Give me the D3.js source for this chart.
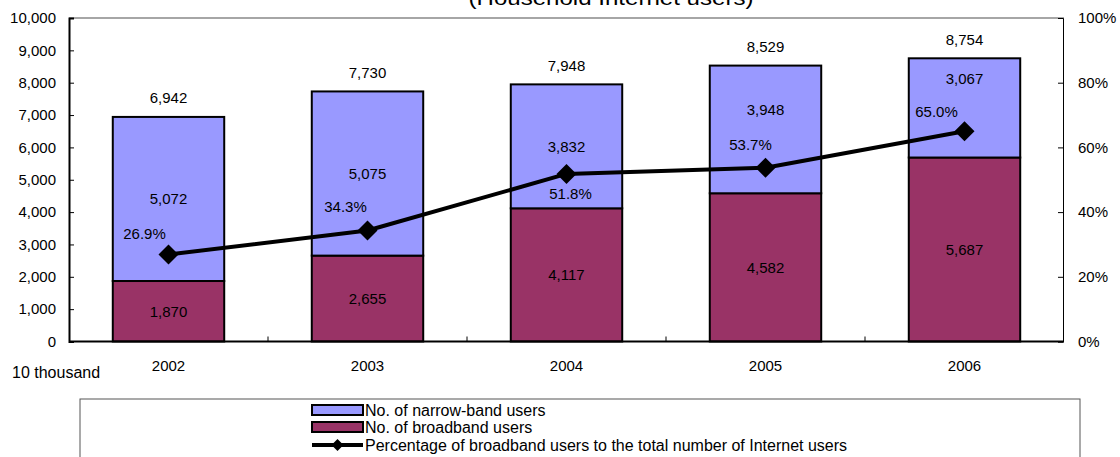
<!DOCTYPE html>
<html>
<head>
<meta charset="utf-8">
<script src="https://cdn.jsdelivr.net/npm/d3@7"></script>
<style>
  html, body { margin: 0; padding: 0; background: #fff; }
  svg { display: block; }
  text { font-family: "Liberation Sans", Arial, sans-serif; fill: #000; }
</style>
</head>
<body>
<svg id="chart" width="1120" height="457"></svg>
<script>
// ---- data ----
const years = ["2002", "2003", "2004", "2005", "2006"];
const narrowband = [5072, 5075, 3832, 3948, 3067];
const broadband = [1870, 2655, 4117, 4582, 5687];
const totals = [6942, 7730, 7948, 8529, 8754];
const percentBroadband = [26.9, 34.3, 51.8, 53.7, 65.0];
const leftTicks = [0, 1000, 2000, 3000, 4000, 5000, 6000, 7000, 8000, 9000, 10000];
const rightTicks = [0, 20, 40, 60, 80, 100];
const seriesNames = ["No. of narrow-band users", "No. of broadband users",
  "Percentage of broadband users to the total number of Internet users"];
const titleText = "(Household Internet users)";
const unitText = "10 thousand";

// ---- label placement (style config) ----
const pctOffsets = [[-24, -21], [-22, -24], [4, 20], [-15, -23], [-28, -19]];
const narrowLabelShift = [0, 0, 0, -20, -29];

// ---- layout ----
const L = 69, R = 1064, T = 18, B = 341.5;
const fs = 15;
const colNarrow = "#9999FF", colBroad = "#993366";

const svg = d3.select("#chart");

const x = d3.scaleBand().domain(years).range([L, R]).paddingInner(0.44).paddingOuter(0.22);
const y = d3.scaleLinear().domain([0, 10000]).range([B, T]);
const y2 = d3.scaleLinear().domain([0, 100]).range([B, T]);

// title (cut off at top, as in the reference)
svg.append("text").attr("x", 611).attr("y", 5).attr("text-anchor", "middle")
  .attr("font-size", 20).attr("textLength", 285).attr("lengthAdjust", "spacingAndGlyphs")
  .text(titleText);

// top border
svg.append("line").attr("x1", L).attr("x2", R).attr("y1", T).attr("y2", T)
  .attr("stroke", "#888").attr("stroke-width", 1.5);

// bars
const g = svg.append("g");
years.forEach((yr, i) => {
  const bx = x(yr), bw = x.bandwidth();
  g.append("rect").attr("x", bx).attr("width", bw)
    .attr("y", y(broadband[i])).attr("height", y(0) - y(broadband[i]))
    .attr("fill", colBroad).attr("stroke", "#000").attr("stroke-width", 2);
  g.append("rect").attr("x", bx).attr("width", bw)
    .attr("y", y(totals[i])).attr("height", y(broadband[i]) - y(totals[i]))
    .attr("fill", colNarrow).attr("stroke", "#000").attr("stroke-width", 2);
});

// axes
const fmt = d3.format(",");
const leftAxis = d3.axisLeft(y).tickValues(leftTicks).tickSize(-5).tickPadding(13).tickFormat(fmt);
const gl = svg.append("g").attr("transform", `translate(${L},0)`).call(leftAxis);
gl.select(".domain").attr("stroke", "#000").attr("stroke-width", 2);
gl.selectAll(".tick line").attr("stroke", "#000");
gl.selectAll("text").attr("font-size", fs).attr("font-family", "Liberation Sans, Arial, sans-serif");

const rightAxis = d3.axisRight(y2).tickValues(rightTicks).tickSize(-5).tickPadding(15).tickFormat(d => d + "%");
const gr = svg.append("g").attr("transform", `translate(${R - 1},0)`).call(rightAxis);
gr.select(".domain").attr("stroke", "#000").attr("stroke-width", 1);
gr.selectAll(".tick line").attr("stroke", "#000");
gr.selectAll("text").attr("font-size", fs).attr("font-family", "Liberation Sans, Arial, sans-serif");

// bottom axis
svg.append("line").attr("x1", L).attr("x2", R).attr("y1", B).attr("y2", B)
  .attr("stroke", "#000").attr("stroke-width", 2);
for (let i = 0; i < years.length - 1; i++) {
  const bx = (x(years[i]) + x.bandwidth() + x(years[i + 1])) / 2;
  svg.append("line").attr("x1", bx).attr("x2", bx).attr("y1", B).attr("y2", B - 5)
    .attr("stroke", "#000").attr("stroke-width", 1);
}
svg.selectAll(".xlab").data(years).enter().append("text")
  .attr("x", d => x(d) + x.bandwidth() / 2).attr("y", 371)
  .attr("text-anchor", "middle").attr("font-size", fs).text(d => d);
svg.append("text").attr("x", 12).attr("y", 378).attr("font-size", 16).text(unitText);

// bar labels
years.forEach((yr, i) => {
  const cx = x(yr) + x.bandwidth() / 2;
  svg.append("text").attr("x", cx).attr("y", y(totals[i]) - 19).attr("dy", "0.35em")
    .attr("text-anchor", "middle").attr("font-size", fs).text(fmt(totals[i]));
  svg.append("text").attr("x", cx)
    .attr("y", (y(totals[i]) + y(broadband[i])) / 2 + narrowLabelShift[i]).attr("dy", "0.35em")
    .attr("text-anchor", "middle").attr("font-size", fs).text(fmt(narrowband[i]));
  svg.append("text").attr("x", cx)
    .attr("y", (y(broadband[i]) + y(0)) / 2).attr("dy", "0.35em")
    .attr("text-anchor", "middle").attr("font-size", fs).text(fmt(broadband[i]));
});

// line
const pts = years.map((yr, i) => [x(yr) + x.bandwidth() / 2, y2(percentBroadband[i])]);
svg.append("path").attr("d", d3.line()(pts)).attr("fill", "none")
  .attr("stroke", "#000").attr("stroke-width", 4).attr("stroke-linejoin", "round");
const diamond = "M0,-10L10,0L0,10L-10,0Z";
pts.forEach((p, i) => {
  svg.append("path").attr("d", diamond).attr("transform", `translate(${p[0]},${p[1]})`).attr("fill", "#000");
  svg.append("text").attr("x", p[0] + pctOffsets[i][0]).attr("y", p[1] + pctOffsets[i][1])
    .attr("dy", "0.35em").attr("text-anchor", "middle").attr("font-size", fs)
    .text(d3.format(".1f")(percentBroadband[i]) + "%");
});

// legend
svg.append("rect").attr("x", 80).attr("y", 399).attr("width", 1000).attr("height", 80)
  .attr("fill", "#fff").attr("stroke", "#555").attr("stroke-width", 1);
const lx = 312, lw = 51, ly = [410, 427, 445];
svg.append("rect").attr("x", lx).attr("y", ly[0] - 5).attr("width", lw).attr("height", 10)
  .attr("fill", colNarrow).attr("stroke", "#000").attr("stroke-width", 2);
svg.append("rect").attr("x", lx).attr("y", ly[1] - 5).attr("width", lw).attr("height", 10)
  .attr("fill", colBroad).attr("stroke", "#000").attr("stroke-width", 2);
svg.append("line").attr("x1", lx).attr("x2", lx + lw).attr("y1", ly[2]).attr("y2", ly[2])
  .attr("stroke", "#000").attr("stroke-width", 4);
svg.append("path").attr("d", "M0,-6L6,0L0,6L-6,0Z").attr("transform", `translate(${lx + lw / 2},${ly[2]})`).attr("fill", "#000");
seriesNames.forEach((s, i) => {
  svg.append("text").attr("x", lx + lw + 2).attr("y", ly[i]).attr("dy", "0.35em")
    .attr("font-size", 16).text(s);
});
</script>
</body>
</html>
